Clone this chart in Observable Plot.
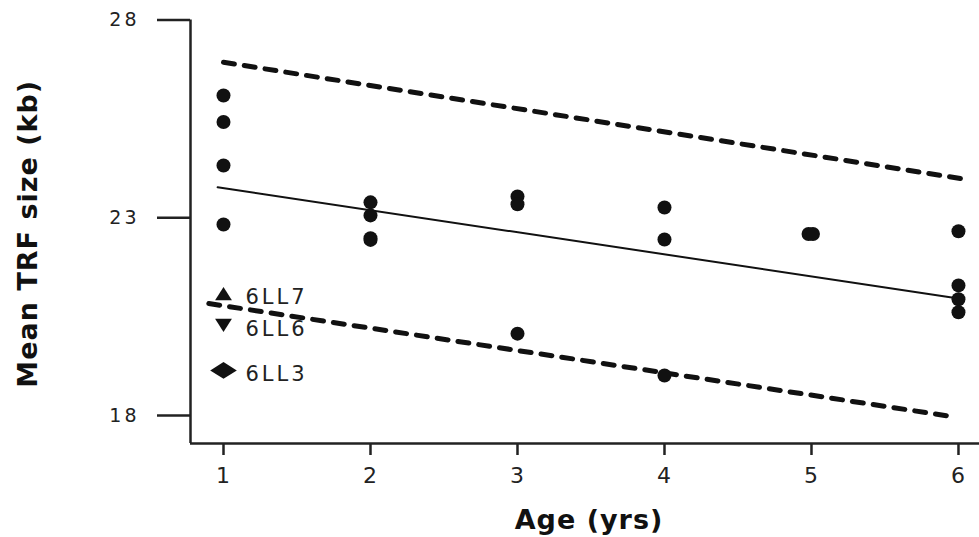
<!DOCTYPE html>
<html>
<head>
<meta charset="utf-8">
<script src="https://cdn.jsdelivr.net/npm/d3@7"></script>
<script src="https://cdn.jsdelivr.net/npm/@observablehq/plot@0.6"></script>
<style>
  html, body { margin: 0; padding: 0; background: #fff; }
  #chart svg { display: block; }
  g[aria-label="y-axis tick label"] text { letter-spacing: 3px; }
  g[aria-label="x-axis tick label"] text { letter-spacing: 1px; }
  g.annot text { letter-spacing: 3px; }
  g.ytitle text, g.xtitle text { letter-spacing: 1px; }
</style>
</head>
<body>
<div id="chart"></div>
<script>
// ---- data ----
const ages = [1, 1, 1, 1, 2, 2, 2, 2, 3, 3, 3, 4, 4, 4, 4.98, 5.01, 6, 6, 6, 6];
const trfSize = [26.09, 25.42, 24.32, 22.83, 23.39, 23.06, 22.48, 22.44, 23.54, 23.34, 20.07, 23.26, 22.45, 19.01, 22.59, 22.59, 22.66, 21.29, 20.94, 20.61];

const specialIds = ["6LL7", "6LL6", "6LL3"];
const specialAges = [1, 1, 1];
const specialTrf = [21.08, 20.28, 19.14];

const fitAges = [0.96, 6];
const fitTrf = [23.77, 20.96];
const upperAges = [1, 6.05];
const upperTrf = [26.93, 23.97];
const lowerAges = [0.9, 5.98];
const lowerTrf = [20.83, 17.96];

const xTicks = [1, 2, 3, 4, 5, 6];
const yTicks = [18, 23, 28];
const xDomain = [0.7755, 6.143];
const yDomain = [17.292, 28];

// ---- tables ----
const points = ages.map((a, i) => ({age: a, trf: trfSize[i]}));
const specials = specialIds.map((id, i) => ({id, age: specialAges[i], trf: specialTrf[i]}));
const fit = fitAges.map((a, i) => ({age: a, trf: fitTrf[i]}));
const upper = upperAges.map((a, i) => ({age: a, trf: upperTrf[i]}));
const lower = lowerAges.map((a, i) => ({age: a, trf: lowerTrf[i]}));

// custom symbols
const triUp = {draw(ctx, size) {
  const r = Math.sqrt(size / Math.PI);
  ctx.moveTo(0, -r * 0.95); ctx.lineTo(r * 1.2, r * 0.95); ctx.lineTo(-r * 1.2, r * 0.95); ctx.closePath();
}};
const triDown = {draw(ctx, size) {
  const r = Math.sqrt(size / Math.PI);
  ctx.moveTo(0, r * 0.95); ctx.lineTo(r * 1.2, -r * 0.95); ctx.lineTo(-r * 1.2, -r * 0.95); ctx.closePath();
}};
const wideDiamond = {draw(ctx, size) {
  const r = Math.sqrt(size / Math.PI);
  ctx.moveTo(-r * 1.9, 0); ctx.lineTo(0, -r * 1.2); ctx.lineTo(r * 1.9, 0); ctx.lineTo(0, r * 1.2); ctx.closePath();
}};

const ink = "#111";
const axisInk = "#222";

const chart = Plot.plot({
  width: 979,
  height: 537,
  marginLeft: 190,
  marginRight: 0,
  marginTop: 19.5,
  marginBottom: 94,
  style: {fontFamily: "'DejaVu Sans', sans-serif", fontSize: "19px", color: axisInk, background: "#fff"},
  x: {domain: xDomain},
  y: {domain: yDomain},
  marks: [
    Plot.axisX({ticks: xTicks, tickSize: 12, tickPadding: 12, strokeWidth: 2.5, fontSize: 22, label: null, tickFormat: d => String(d)}),
    Plot.axisY({ticks: yTicks, tickSize: 33, tickPadding: 18, strokeWidth: 2.5, fontSize: 19, label: null}),
    Plot.ruleX([xDomain[0]], {stroke: axisInk, strokeWidth: 2.5}),
    Plot.ruleY([yDomain[0]], {stroke: axisInk, strokeWidth: 2.5}),
    Plot.line(upper, {x: "age", y: "trf", stroke: ink, strokeWidth: 5, strokeDasharray: "11,10"}),
    Plot.line(lower, {x: "age", y: "trf", stroke: ink, strokeWidth: 5, strokeDasharray: "11,10"}),
    Plot.line(fit, {x: "age", y: "trf", stroke: ink, strokeWidth: 2}),
    Plot.dot(points, {x: "age", y: "trf", r: 7, fill: ink, stroke: null}),
    Plot.dot(specials, {filter: d => d.id === "6LL7", x: "age", y: "trf", r: 7, symbol: triUp, fill: ink}),
    Plot.dot(specials, {filter: d => d.id === "6LL6", x: "age", y: "trf", r: 7, symbol: triDown, fill: ink}),
    Plot.dot(specials, {filter: d => d.id === "6LL3", x: "age", y: "trf", r: 7, symbol: wideDiamond, fill: ink}),
    Plot.text(specials, {x: "age", y: "trf", text: "id", dx: 22, dy: 4, textAnchor: "start", fontSize: 21, fill: "#222", className: "annot"}),
    Plot.text(["Mean TRF size (kb)"], {frameAnchor: "left", textAnchor: "middle", lineAnchor: "middle", rotate: -90, dx: -162, dy: 2, fontSize: 27, fontWeight: "bold", fill: "#111", className: "ytitle"}),
    Plot.text(["Age (yrs)"], {frameAnchor: "bottom", textAnchor: "middle", lineAnchor: "middle", dx: 4, dy: 77, fontSize: 27, fontWeight: "bold", fill: "#111", className: "xtitle"})
  ]
});
document.getElementById("chart").appendChild(chart);
</script>
</body>
</html>
